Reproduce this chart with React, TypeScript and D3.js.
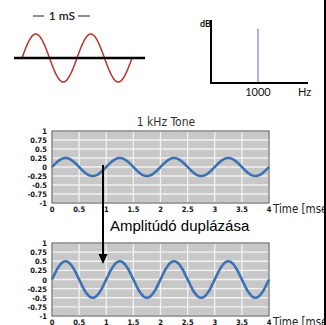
import React from "react";
import * as d3 from "d3";

// Data
const toneFrequencyKHz = [1];
const amplitudes = [0.25, 0.5]; // original, doubled
const yTicks = [1, 0.75, 0.5, 0.25, 0, -0.25, -0.5, -0.75, -1];
const xTicks = [0, 0.5, 1, 1.5, 2, 2.5, 3, 3.5, 4];
const spectrumFreqs = [1000];
const spectrumLevels = [0.86];
const illustrationCycles = [2];

const W = 326;
const H = 325;

const condensed = "'DejaVu Sans Condensed', 'DejaVu Sans', sans-serif";
const narrow = "'Liberation Sans Narrow', 'DejaVu Sans Condensed', sans-serif";

function samples(amp: number, f: number, t0: number, t1: number, n: number) {
  return d3.range(n + 1).map((i) => {
    const t = t0 + ((t1 - t0) * i) / n;
    return [t, amp * Math.sin(2 * Math.PI * f * t)] as [number, number];
  });
}

function WavePanel({ top, bottom, amp, showTitle }: { top: number; bottom: number; amp: number; showTitle: boolean }) {
  const x = d3.scaleLinear().domain([0, 4]).range([52, 269]);
  const y = d3.scaleLinear().domain([-1, 1]).range([bottom, top]);
  const line = d3
    .line<[number, number]>()
    .x((d) => x(d[0]))
    .y((d) => y(d[1]))
    .curve(d3.curveBasis);
  const data = samples(amp, toneFrequencyKHz[0], 0, 4, 400);
  return (
    <g>
      {showTitle && (
        <text x={166} y={126} textAnchor="middle" fontFamily={narrow} fontSize={12} fill="#333">
          1 kHz Tone
        </text>
      )}
      <rect x={x(0)} y={y(1)} width={x(4) - x(0)} height={y(-1) - y(1)} fill="#c8c8c8" />
      {yTicks.map((t) => (
        <line key={"h" + t} x1={x(0)} x2={x(4)} y1={y(t)} y2={y(t)} stroke="#f2f2f2" strokeWidth={1.3} />
      ))}
      {xTicks.map((t) => (
        <line key={"v" + t} x1={x(t)} x2={x(t)} y1={y(1)} y2={y(-1)} stroke="#f2f2f2" strokeWidth={1.3} />
      ))}
      <rect x={x(0)} y={y(1)} width={x(4) - x(0)} height={y(-1) - y(1)} fill="none" stroke="#555" strokeWidth={1} />
      <path d={line(data) || ""} fill="none" stroke="#3d72b4" strokeWidth={2.6} />
      {yTicks.map((t) => (
        <text
          key={"yl" + t}
          x={47}
          y={y(t) + 3}
          textAnchor="end"
          fontFamily={condensed}
          fontStretch="condensed"
          fontWeight="bold"
          fontSize={7.5}
          fill="#111"
        >
          {String(t)}
        </text>
      ))}
      {xTicks.map((t) => (
        <text
          key={"xl" + t}
          x={x(t)}
          y={bottom + 9}
          textAnchor="middle"
          fontFamily={condensed}
          fontStretch="condensed"
          fontWeight="bold"
          fontSize={7.5}
          fill="#111"
        >
          {String(t)}
        </text>
      ))}
      <text x={273} y={bottom + 10} fontFamily={narrow} fontSize={11.5} fill="#222">
        Time [msec]
      </text>
    </g>
  );
}

export default function App() {
  // top-left illustration
  const ix = d3.scaleLinear().domain([0, illustrationCycles[0]]).range([22, 132]);
  const iy = d3.scaleLinear().domain([-1, 1]).range([82, 34]);
  const iline = d3
    .line<[number, number]>()
    .x((d) => ix(d[0]))
    .y((d) => iy(d[1]))
    .curve(d3.curveBasis);
  const idata = samples(1, 1, 0, illustrationCycles[0], 200);

  // spectrum
  const sx = d3.scaleLinear().domain([0, 2000]).range([211, 305]);
  const sy = d3.scaleLinear().domain([0, 1]).range([83, 20]);

  return (
    <svg width={W} height={H} style={{ position: "absolute", left: 0, top: 0, background: "#fff" }}>
      <rect width={W} height={H} fill="#fff" />
      {/* illustration */}
      <line x1={33} x2={44} y1={16} y2={16} stroke="#222" strokeWidth={1} />
      <line x1={78} x2={90} y1={16} y2={16} stroke="#222" strokeWidth={1} />
      <text x={62} y={20} textAnchor="middle" fontFamily="Lato, sans-serif" fontSize={12} fontWeight={600} fill="#222">
        1 mS
      </text>
      <path d={iline(idata) || ""} fill="none" stroke="#b8322c" strokeWidth={1.5} />
      <line x1={14} x2={145} y1={58} y2={58} stroke="#000" strokeWidth={2.5} />

      {/* spectrum */}
      <text x={200} y={27} fontFamily="Lato, sans-serif" fontSize={9} fontWeight={700} fill="#111">
        dB
      </text>
      {spectrumFreqs.map((f, i) => (
        <line key={f} x1={sx(f)} x2={sx(f)} y1={sy(0)} y2={sy(spectrumLevels[i])} stroke="#5c5ce6" strokeWidth={1} />
      ))}
      <line x1={211} x2={211} y1={20} y2={84} stroke="#000" strokeWidth={2} />
      <line x1={210} x2={308} y1={83} y2={83} stroke="#000" strokeWidth={2} />
      {spectrumFreqs.map((f) => (
        <text key={"t" + f} x={sx(f)} y={96} textAnchor="middle" fontFamily="Lato, sans-serif" fontSize={11} fill="#111">
          {String(f)}
        </text>
      ))}
      <text x={298} y={96} fontFamily="Lato, sans-serif" fontSize={11} fill="#111">
        Hz
      </text>

      <WavePanel top={131} bottom={203} amp={amplitudes[0]} showTitle={true} />
      <WavePanel top={243} bottom={316} amp={amplitudes[1]} showTitle={false} />

      {/* arrow */}
      <line x1={103} x2={103} y1={165} y2={256} stroke="#000" strokeWidth={2} />
      <path d="M98.5,254 L107.5,254 L103,264 Z" fill="#000" />
      <text x={110} y={231} fontFamily="'Liberation Sans', Arial, sans-serif" fontSize={15} fill="#000">
        Amplitúdó duplázása
      </text>

      {/* right edge line */}
      <line x1={325} x2={325} y1={0} y2={H} stroke="#000" strokeWidth={2} />
    </svg>
  );
}
